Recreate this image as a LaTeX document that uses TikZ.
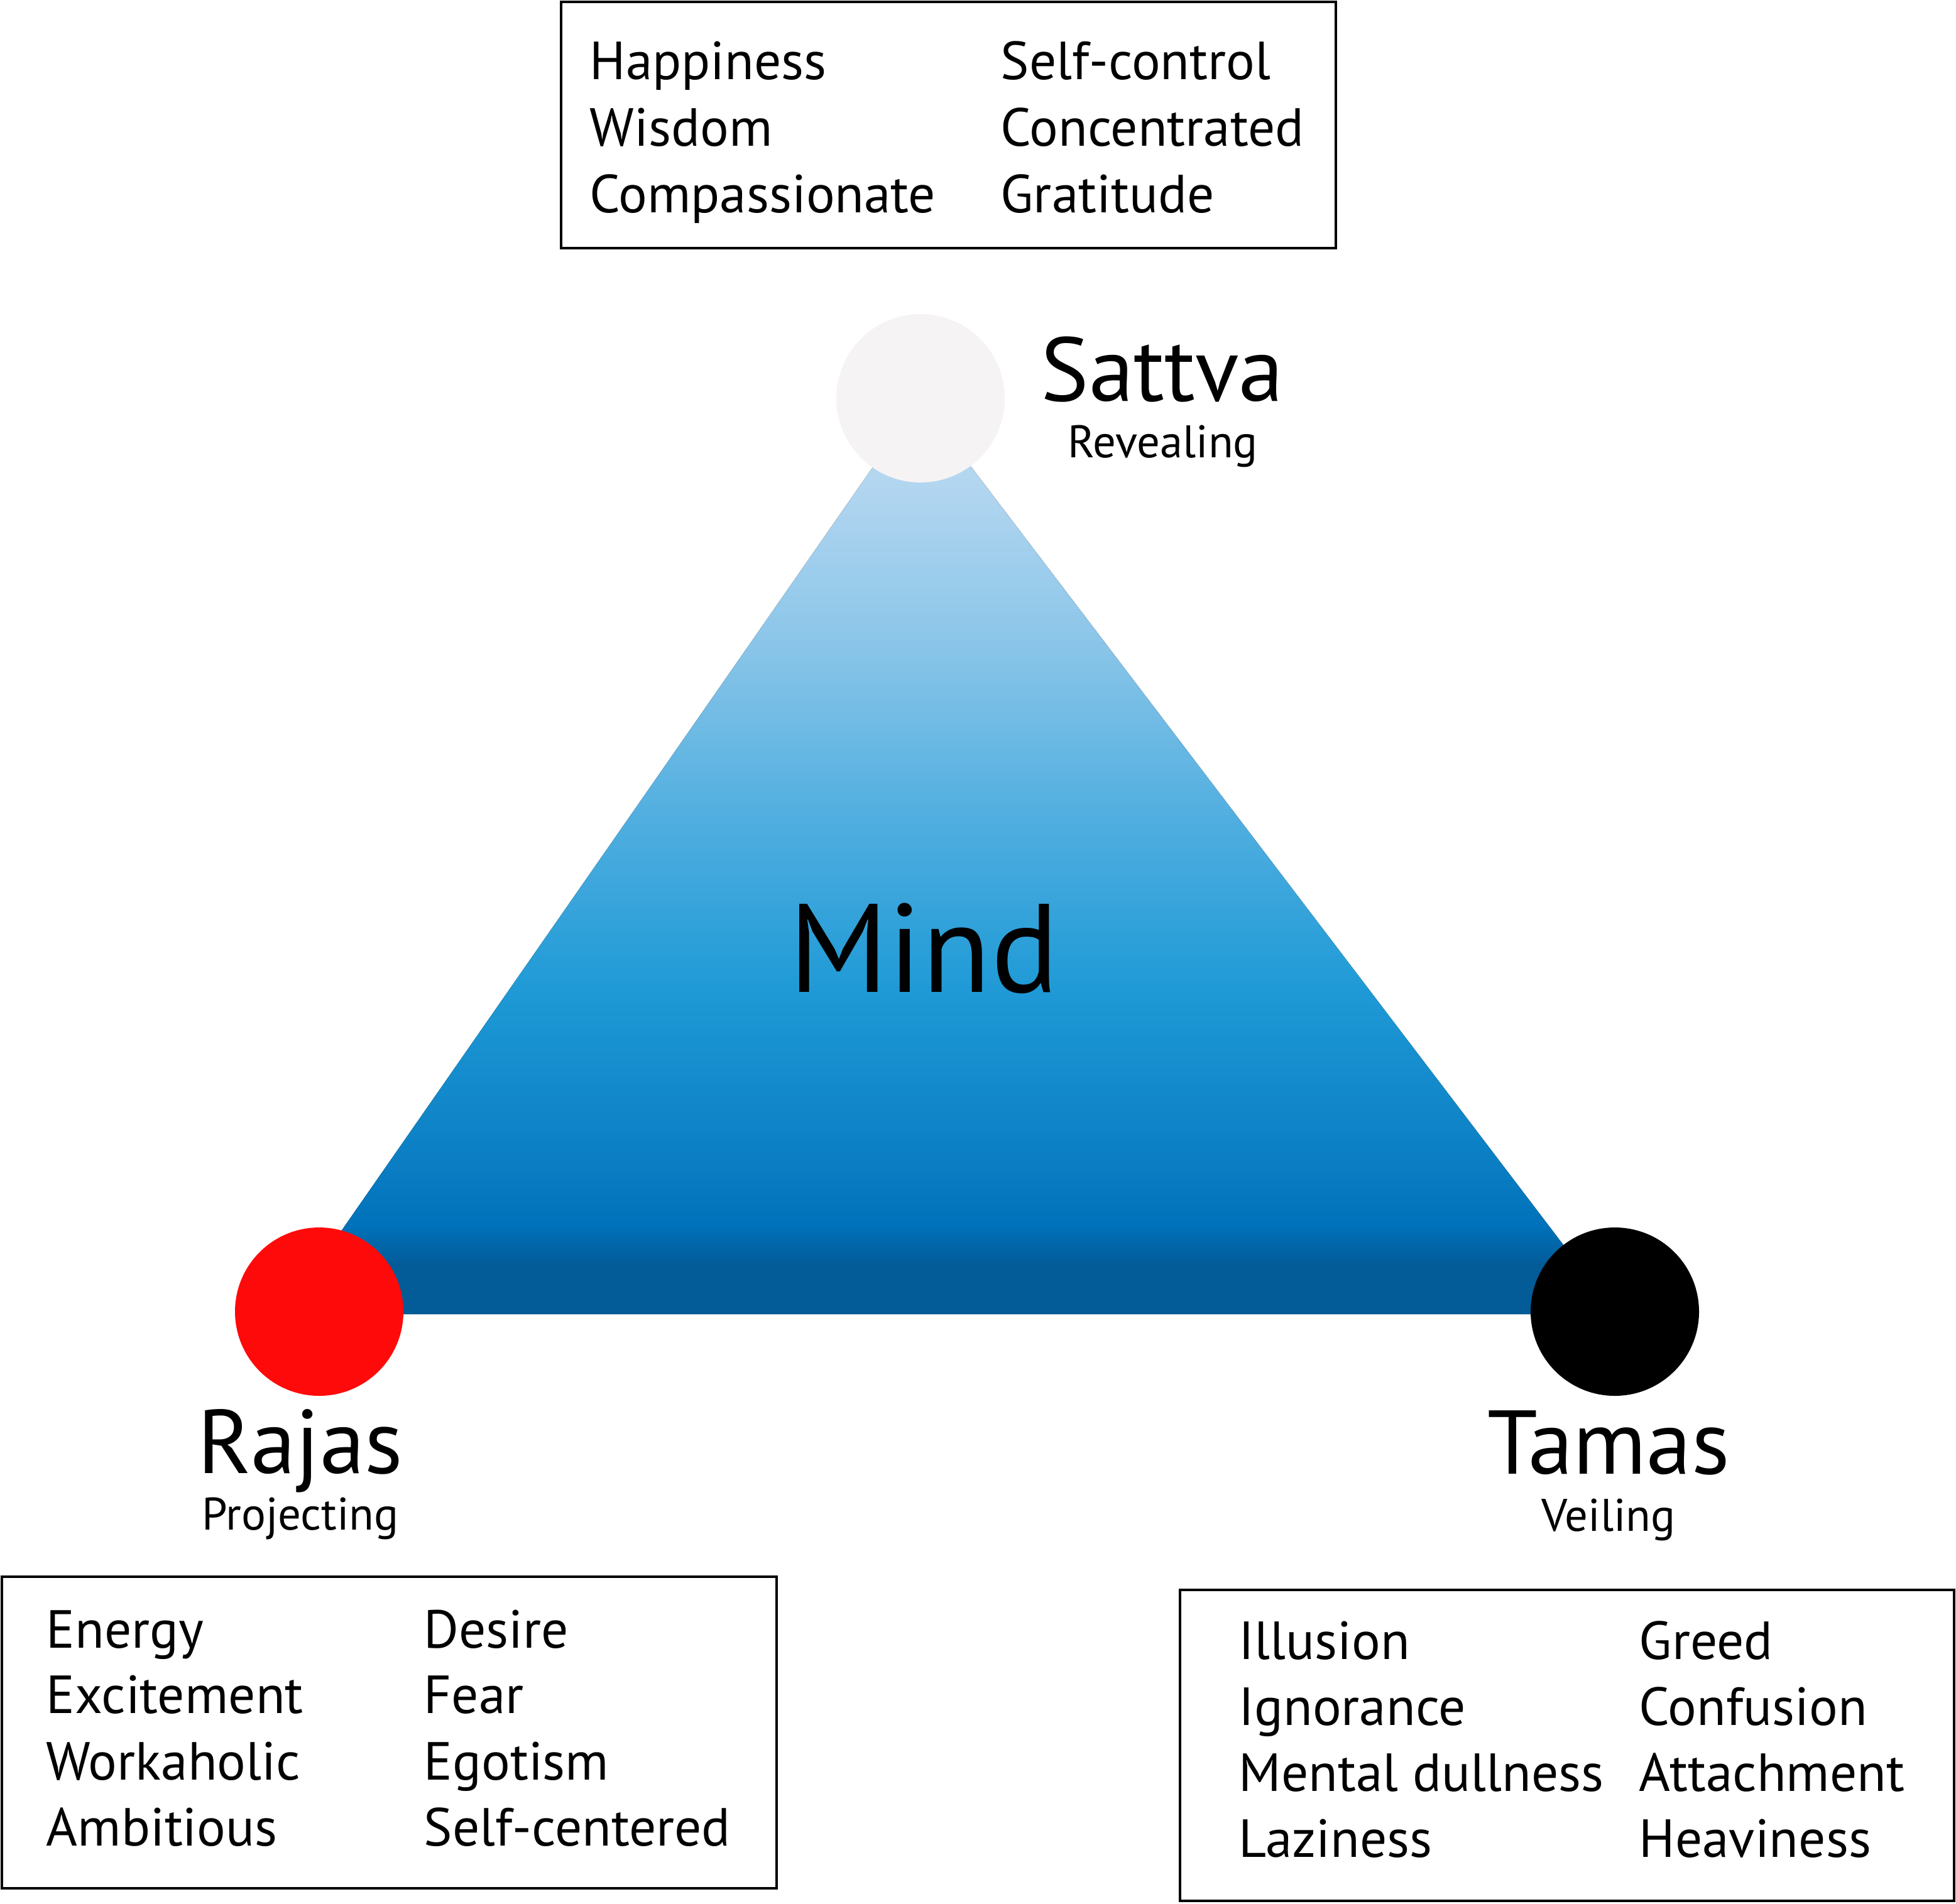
\documentclass[tikz,border=0pt]{standalone}
\usepackage{fontspec}
\setmainfont{PT Sans}
\usepackage{xcolor}
\usetikzlibrary{positioning}

\definecolor{sattvagrey}{HTML}{F5F3F4}
\definecolor{rajasred}{HTML}{FF0A0A}
\definecolor{mindA}{HTML}{035B98}
\definecolor{mindB}{HTML}{0072BB}
\definecolor{mindC}{HTML}{0A7DC3}
\definecolor{mindD}{HTML}{1F9AD6}
\definecolor{mindE}{HTML}{52AFE0}
\definecolor{mindF}{HTML}{8CC6E9}
\definecolor{mindG}{HTML}{B3D6F0}
\definecolor{mindH}{HTML}{BBDDF3}

\pgfdeclareverticalshading{mindshade}{100bp}{color(0bp)=(mindA); color(25bp)=(mindA);
  color(27.7bp)=(mindA); color(29.9bp)=(mindB); color(33.1bp)=(mindC); color(42.8bp)=(mindD);
  color(52.4bp)=(mindE); color(62bp)=(mindF); color(70.4bp)=(mindG); color(75bp)=(mindH);
  color(100bp)=(mindH)}

\tikzset{
  guna/.style={circle, inner sep=0pt, minimum size=2.68cm},
  listbox/.style={draw, line width=1.3pt, inner sep=0pt},
  item/.style={anchor=base west, inner sep=0pt, font=\fontsize{24.3}{30}\selectfont},
  gunaname/.style={anchor=base, inner sep=0pt, font=\fontsize{41}{49}\selectfont},
  gunaact/.style={anchor=base, inner sep=0pt, font=\fontsize{20.7}{25}\selectfont}
}

\begin{document}
\begin{tikzpicture}
    \useasboundingbox (0,0) rectangle (31.13,-30.30);

    % Triangle
    \fill[shading=mindshade] (14.64,-6.36) -- (4.51,-20.92) -- (25.72,-20.92) -- cycle;
    \node[inner sep=0pt, anchor=base, font=\fontsize{57}{68}\selectfont] (mind) at (14.70,-15.79) {Mind};

    % Gunas
    \node[guna, fill=sattvagrey] (sattva) at (14.65,-6.34) {};
    \node[guna, fill=rajasred] (rajas) at (5.08,-20.88) {};
    \node[guna, fill=black] (tamas) at (25.70,-20.88) {};

    \node[gunaname] (sattvaname) at (18.50,-6.38) {Sattva};
    \node[gunaact] (sattvaact) at (18.51,-7.28) {Revealing};
    \node[gunaname] (rajasname) at (4.78,-23.45) {Rajas};
    \node[gunaact] (rajasact) at (4.78,-24.35) {Projecting};
    \node[gunaname] (tamasname) at (25.60,-23.46) {Tamas};
    \node[gunaact] (tamasact) at (25.60,-24.37) {Veiling};

    % Sattva qualities
    \node[listbox, minimum width=12.33cm, minimum height=3.92cm] (sattvabox) at (15.095,-1.99) {};
    \node[item] (happiness) at (9.38,-1.26) {Happiness};
    \node[item] (wisdom) at (9.38,-2.32) {Wisdom};
    \node[item] (compassionate) at (9.38,-3.38) {Compassionate};
    \node[item] (selfcontrol) at (15.92,-1.26) {Self-control};
    \node[item] (concentrated) at (15.92,-2.32) {Concentrated};
    \node[item] (gratitude) at (15.92,-3.38) {Gratitude};

    % Rajas qualities
    \node[listbox, minimum width=12.33cm, minimum height=4.96cm] (rajasbox) at (6.195,-27.58) {};
    \node[item] (energy) at (0.73,-26.23) {Energy};
    \node[item] (excitement) at (0.73,-27.27) {Excitement};
    \node[item] (workaholic) at (0.73,-28.33) {Workaholic};
    \node[item] (ambitious) at (0.73,-29.38) {Ambitious};
    \node[item] (desire) at (6.74,-26.23) {Desire};
    \node[item] (fear) at (6.74,-27.27) {Fear};
    \node[item] (egotism) at (6.74,-28.33) {Egotism};
    \node[item] (selfcentered) at (6.74,-29.38) {Self-centered};

    % Tamas qualities
    \node[listbox, minimum width=12.32cm, minimum height=4.95cm] (tamasbox) at (24.94,-27.785) {};
    \node[item] (illusion) at (19.71,-26.41) {Illusion};
    \node[item] (ignorance) at (19.71,-27.46) {Ignorance};
    \node[item] (dullness) at (19.71,-28.51) {Mental dullness};
    \node[item] (laziness) at (19.71,-29.56) {Laziness};
    \node[item] (greed) at (26.08,-26.41) {Greed};
    \node[item] (confusion) at (26.08,-27.46) {Confusion};
    \node[item] (attachment) at (26.08,-28.51) {Attachment};
    \node[item] (heaviness) at (26.08,-29.56) {Heaviness};

\end{tikzpicture}
\end{document}
